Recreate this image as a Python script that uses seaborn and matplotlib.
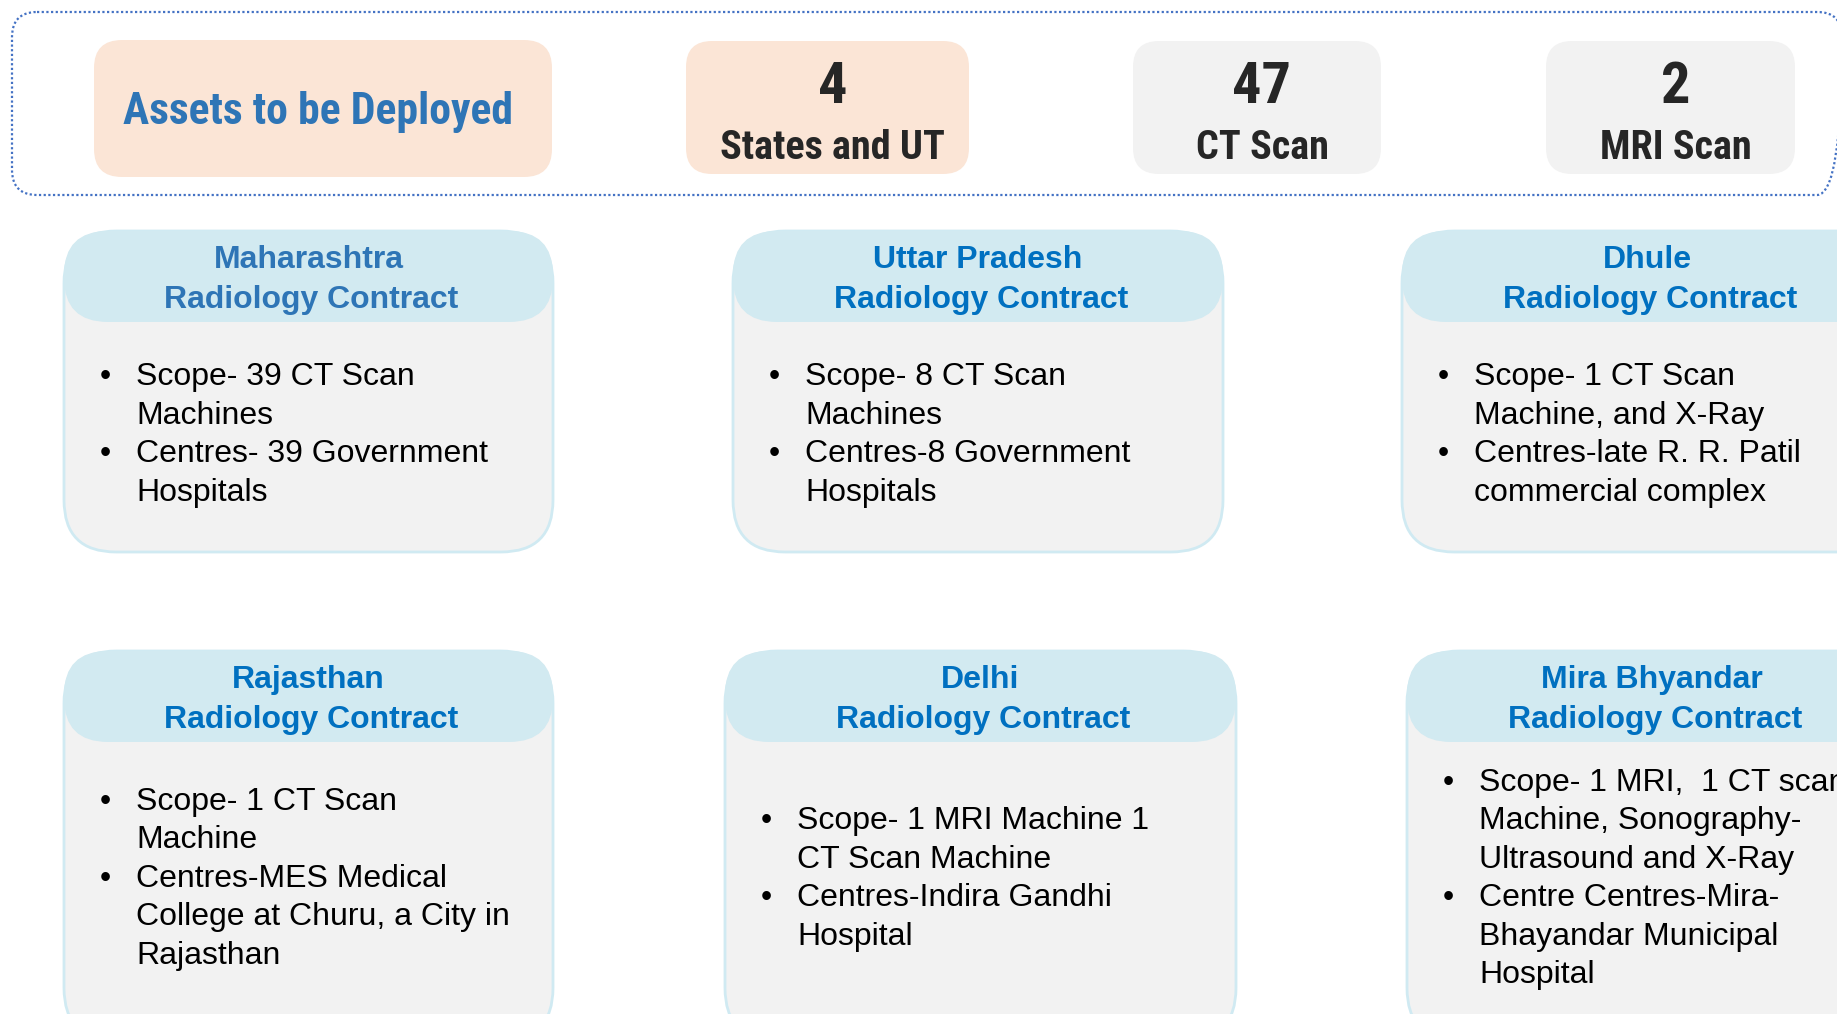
import matplotlib
matplotlib.use("Agg")
import matplotlib.pyplot as plt
import seaborn as sns
from matplotlib.patches import FancyBboxPatch

# ── Content ───────────────────────────────────────────────────────────────────
ASSET_TITLE = "Assets to be Deployed"
STAT_VALUES = [4, 47, 2]
STAT_LABELS = ["States and UT", "CT Scan", "MRI Scan"]

CARD_TITLES = ["Maharashtra", "Uttar Pradesh", "Dhule",
               "Rajasthan", "Delhi", "Mira Bhyandar"]
CARD_SUBTITLE = "Radiology Contract"
CARD_BULLETS = [
    ["Scope- 39 CT Scan\nMachines", "Centres- 39 Government\nHospitals"],
    ["Scope- 8 CT Scan\nMachines", "Centres-8 Government\nHospitals"],
    ["Scope- 1 CT Scan\nMachine, and X-Ray", "Centres-late R. R. Patil\ncommercial complex"],
    ["Scope- 1 CT Scan\nMachine", "Centres-MES Medical\nCollege at Churu, a City in\nRajasthan"],
    ["Scope- 1 MRI Machine 1\nCT Scan Machine", "Centres-Indira Gandhi\nHospital"],
    ["Scope- 1 MRI,  1 CT scan\nMachine, Sonography-\nUltrasound and X-Ray",
     "Centre Centres-Mira-\nBhayandar Municipal\nHospital"],
]

# ── Layout (pixels, y downwards) ──────────────────────────────────────────────
W, H = 1837, 1014
STAT_BOXES = [(686, 969), (1133, 1381), (1546, 1795)]
STAT_FILLS = ["#FBE5D6", "#F2F2F2", "#F2F2F2"]
CARD_X = [(64, 553), (733, 1223), (1402, 1892),
          (64, 553), (725, 1236), (1407, 1897)]
ROW_TOP = [231, 651]
ROW_BOTTOM = [552, 1040]
HEADER_H = 91
BODY_MID = [443, 887]      # baseline mid of the bullet block
LINE_H = 38.5
TITLE_COLORS = ["#2E75B6", "#0070C0", "#0070C0", "#0070C0", "#0070C0", "#0070C0"]

sns.set_theme(style="white")
plt.rcParams["font.family"] = ["Liberation Sans", "DejaVu Sans"]
NARROW = ["Roboto Condensed", "Archivo Narrow", "PT Sans Narrow", "Liberation Sans"]

fig = plt.figure(figsize=(W / 100, H / 100), dpi=100)
ax = fig.add_axes([0, 0, 1, 1])
ax.set_xlim(0, W)
ax.set_ylim(H, 0)
ax.axis("off")


def rbox(x0, y0, x1, y1, r, **kw):
    p = FancyBboxPatch((x0, y0), x1 - x0, y1 - y0,
                       boxstyle=f"round,pad=0,rounding_size={r}", **kw)
    ax.add_patch(p)
    return p


# dotted frame round the summary strip
rbox(12, 12, 1842, 195, 25, facecolor="none", edgecolor="#4472C4",
     linewidth=1.6, linestyle=(0, (1, 1.1)))

# summary tiles
rbox(94, 40, 552, 177, 28, facecolor="#FBE5D6", edgecolor="none")
ax.text(318, 124, ASSET_TITLE, ha="center", va="baseline", fontsize=31.5,
        fontweight="bold", color="#2E75B6", family=NARROW)

for (x0, x1), fill, val, lab in zip(STAT_BOXES, STAT_FILLS, STAT_VALUES, STAT_LABELS):
    rbox(x0, 41, x1, 174, 26, facecolor=fill, edgecolor="none")
    cx = (x0 + x1) / 2 + 5
    ax.text(cx, 103, str(val), ha="center", va="baseline", fontsize=42,
            fontweight="bold", color="#262626", family=NARROW)
    ax.text(cx, 159, lab, ha="center", va="baseline", fontsize=29,
            fontweight="bold", color="#262626", family=NARROW)

# contract cards
for i, (title, bullets) in enumerate(zip(CARD_TITLES, CARD_BULLETS)):
    row = i // 3
    x0, x1 = CARD_X[i]
    top, bottom = ROW_TOP[row], ROW_BOTTOM[row]
    rbox(x0, top, x1, bottom, 52, facecolor="#F2F2F2", edgecolor="#D0EAF2",
         linewidth=2)
    rbox(x0, top, x1, top + HEADER_H, 44, facecolor="#D2EAF1", edgecolor="none")
    cx = (x0 + x1) / 2
    ax.text(cx, top + 37, title, ha="center", va="baseline", fontsize=23,
            fontweight="bold", color=TITLE_COLORS[i])
    ax.text(cx + 3, top + 77, CARD_SUBTITLE, ha="center", va="baseline",
            fontsize=23, fontweight="bold", color=TITLE_COLORS[i])

    lines = [item.split("\n") for item in bullets]
    n = sum(len(l) for l in lines)
    y = BODY_MID[row] - (n - 1) * LINE_H / 2
    for item in lines:
        ax.text(x0 + 41, y, "•", ha="center", va="baseline", fontsize=23,
                color="black")
        for ln in item:
            ax.text(x0 + 72, y, ln, ha="left", va="baseline", fontsize=23,
                    color="black")
            y += LINE_H

fig.savefig("out.png", dpi=100)
plt.close(fig)
